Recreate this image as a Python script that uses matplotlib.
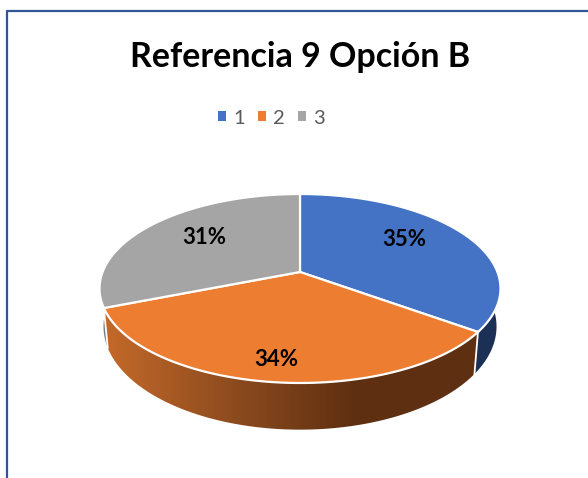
import numpy as np
import matplotlib
matplotlib.use("Agg")
import matplotlib.pyplot as plt
from matplotlib.colors import LinearSegmentedColormap
from matplotlib.patches import Patch, Polygon

title = "Referencia 9 Opción B"
categories = ["1", "2", "3"]
values = [35, 34, 31]
labels = ["35%", "34%", "31%"]
colors = ["#4472C4", "#ED7D31", "#A5A5A5"]
wall_colors = ["#1C2F54", None, "#7C7C7C"]
label_xy = [(404, 239), (276, 360), (204, 237)]

# perspective of the disc, in pixels of the picture
K = 0.1746
TOP = (300, 272, 197.4, 91.6)
BOTTOM = (300, 308.5, 193.5, 100.0)


def project(angles, disc):
    cx, cy, a, b = disc
    u = np.sin(angles)
    v = -np.cos(angles)
    d = 1 - K * v
    return np.column_stack([cx + a * u / d, cy + b * v / d])


def main():
    fig = plt.figure(figsize=(5.88, 4.78), dpi=100)
    ax = fig.add_axes([0, 0, 1, 1])
    ax.set_xlim(0, 588)
    ax.set_ylim(478, 0)
    ax.axis("off")

    # chart frame, the right and bottom sides are cut off in the picture
    ax.plot([7, 7, 588], [478, 11, 11], color="#2F5597", lw=1.6, zorder=1)

    edges = np.cumsum([0] + values) / sum(values) * 2 * np.pi
    grad = LinearSegmentedColormap.from_list(
        "wall", ["#C4692A", "#8E4C1F", "#5E2F11", "#5E2F11"]
    )

    # side walls first, the top covers whatever is behind
    for i, color in enumerate(wall_colors):
        t = np.linspace(edges[i], edges[i + 1], 200)
        wall = np.vstack([project(t, TOP), project(t[::-1], BOTTOM)])
        if color is None:
            poly = Polygon(wall, closed=True, fc="none", ec="none", zorder=2)
            ax.add_patch(poly)
            img = ax.imshow(
                np.linspace(0, 1, 300).reshape(1, -1),
                extent=(104, 480, 440, 300),
                cmap=grad,
                aspect="auto",
                zorder=2,
            )
            img.set_clip_path(poly)
            ax.set_xlim(0, 588)
            ax.set_ylim(478, 0)
        else:
            ax.add_patch(Polygon(wall, closed=True, fc=color, ec="none", zorder=2))

    # white line between blue and orange walls
    for angle in edges[1:3]:
        p = np.vstack([project(np.array([angle]), TOP), project(np.array([angle]), BOTTOM)])
        ax.plot(p[:, 0], p[:, 1], color="white", lw=1.3, zorder=3)

    # top of the pie
    apex = np.array([[TOP[0], TOP[1]]])
    for i, color in enumerate(colors):
        t = np.linspace(edges[i], edges[i + 1], 200)
        top = np.vstack([apex, project(t, TOP)])
        ax.add_patch(Polygon(top, closed=True, fc=color, ec="white", lw=1.6, zorder=4))

    for text, (x, y) in zip(labels, label_xy):
        ax.text(x, y, text, ha="center", va="center", family="Lato",
                fontsize=16, fontweight="bold", color="black", zorder=5)

    ax.text(300, 57, title, ha="center", va="center", family="Lato",
            fontsize=24.5, fontweight="bold", color="black")

    handles = [Patch(fc=c, ec="none", label=n) for c, n in zip(colors, categories)]
    ax.legend(
        handles=handles,
        ncol=3,
        loc="center",
        bbox_to_anchor=(271.5 / 588, 1 - 118 / 478),
        frameon=False,
        prop={"family": "Lato", "size": 14.5},
        labelcolor="#595959",
        handlelength=0.4,
        handleheight=0.4,
        handletextpad=0.35,
        columnspacing=0.65,
    )

    fig.savefig("out.png", dpi=100, facecolor="white")


if __name__ == "__main__":
    main()
